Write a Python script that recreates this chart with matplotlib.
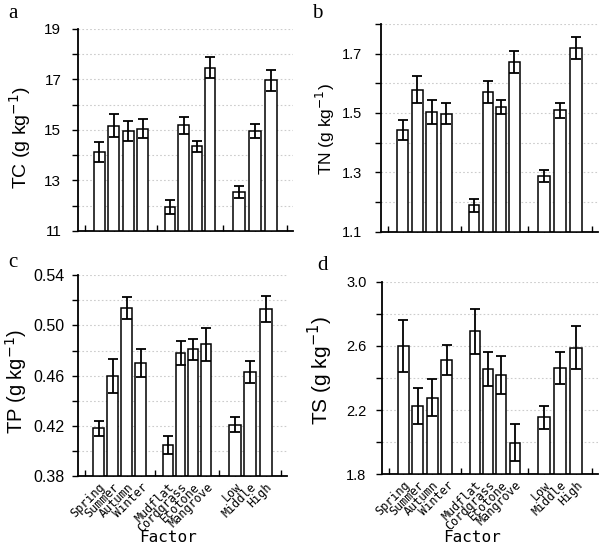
import numpy as np
import matplotlib
matplotlib.use('Agg')
import matplotlib.pyplot as plt

# categories (blank slots separate the three factor groups)
seasons = ['Spring', 'Summer', 'Autumn', 'Winter']
habitats = ['Mudflat', 'Cordgrass', 'Ecotone', 'Mangrove']
elevations = ['Low', 'Middle', 'High']

# means and standard errors, order: seasons, habitats, elevations
tc_mean = [14.14, 15.17, 14.97, 15.05, 11.94, 15.18, 14.36, 17.46, 12.56, 14.97, 16.96]
tc_err = [0.40, 0.45, 0.40, 0.38, 0.28, 0.34, 0.22, 0.42, 0.24, 0.28, 0.40]

tn_mean = [1.443, 1.579, 1.502, 1.497, 1.189, 1.571, 1.520, 1.673, 1.288, 1.509, 1.719]
tn_err = [0.034, 0.045, 0.040, 0.035, 0.022, 0.036, 0.022, 0.037, 0.020, 0.025, 0.037]

tp_mean = [0.418, 0.460, 0.514, 0.470, 0.405, 0.478, 0.481, 0.485, 0.421, 0.463, 0.513]
tp_err = [0.006, 0.0135, 0.0085, 0.0114, 0.007, 0.0093, 0.0082, 0.0132, 0.006, 0.0085, 0.0103]

ts_mean = [2.600, 2.227, 2.279, 2.513, 2.691, 2.455, 2.420, 1.997, 2.156, 2.465, 2.590]
ts_err = [0.164, 0.110, 0.118, 0.093, 0.141, 0.106, 0.116, 0.116, 0.070, 0.100, 0.133]

# ---- layout: slot spacing / bar width per group (axis units ~ pixels) ----
groups = [(seasons, 14.5, 11.0), (habitats, 13.3, 10.2), (elevations, 16.0, 12.5)]

tick_pos, tick_lab, bar_pos, bar_w = [], [], [], []
x = 7.0
tick_pos.append(x)
tick_lab.append('')
for names, step, w in groups:
    for n in names:
        x += step
        tick_pos.append(x)
        tick_lab.append(n)
        bar_pos.append(x)
        bar_w.append(w)
    x += step
    tick_pos.append(x)
    tick_lab.append('')

panels = [
    dict(mean=tc_mean, err=tc_err, ylabel='TC (g kg$^{-1}$)', ylim=(11, 19), grid=1, lab=2,
         fmt='{:.0f}', rect=[0.128, 0.577, 0.353, 0.370], letter='a', xlab=False,
         tfs=11, pad=8, yfs=14, ylc=(-0.27, 0.463), let=(8, 4)),
    dict(mean=tn_mean, err=tn_err, ylabel='TN (g kg$^{-1}$)', ylim=(1.1, 1.8), grid=0.1, lab=0.2,
         fmt='{:.1f}', rect=[0.626, 0.576, 0.356, 0.380], letter='b', xlab=False,
         tfs=10.5, pad=10, yfs=12.5, ylc=(-0.255, 0.494), let=(312, 4)),
    dict(mean=tp_mean, err=tp_err, ylabel='TP (g kg$^{-1}$)', ylim=(0.38, 0.54), grid=0.02, lab=0.04,
         fmt='{:.2f}', rect=[0.128, 0.128, 0.343, 0.368], letter='c', xlab=True,
         tfs=11.5, pad=5.5, yfs=14.5, ylc=(-0.295, 0.473), let=(8, 253), fx=168),
    dict(mean=ts_mean, err=ts_err, ylabel='TS (g kg$^{-1}$)', ylim=(1.8, 3.0), grid=0.2, lab=0.4,
         fmt='{:.1f}', rect=[0.627, 0.131, 0.355, 0.353], letter='d', xlab=True,
         tfs=10.5, pad=7, yfs=15, ylc=(-0.282, 0.54), let=(317, 256), fx=472),
]

W, H = 609, 546
fig = plt.figure(figsize=(W / 100, H / 100), dpi=100)

for p in panels:
    ax = fig.add_axes(p['rect'])
    lo, hi = p['ylim']
    ax.bar(bar_pos, np.array(p['mean']) - lo, width=bar_w, bottom=lo,
           color='white', edgecolor='black', linewidth=1.1, zorder=3)
    ax.errorbar(bar_pos, p['mean'], yerr=p['err'], fmt='none', ecolor='black',
                elinewidth=1.3, capsize=3.5, capthick=1.3, zorder=4)

    ax.set_xlim(0, 216)
    ax.set_ylim(lo, hi)

    # gridlines at every step, labels every other step
    yt = np.arange(lo, hi + p['grid'] / 2, p['grid'])
    ax.set_yticks(yt)
    labels = []
    for v in yt:
        k = round((v - lo) / p['lab'], 6)
        labels.append(p['fmt'].format(v) if abs(k - round(k)) < 1e-6 else '')
    ax.set_yticklabels(labels, fontsize=p['tfs'], family='Liberation Sans')
    for v in yt[1:]:
        ax.axhline(v, color='#cccccc', linestyle=(0, (1.5, 2)), linewidth=0.8, zorder=1)

    ax.set_xticks(tick_pos)
    if p['xlab']:
        ax.set_xticklabels(tick_lab, rotation=45, ha='right', rotation_mode='anchor',
                           fontsize=8.5, family='DejaVu Sans Mono')
        fig.text(p['fx'] / W, 1 - 537 / H, 'Factor', fontsize=11.5,
                 family='DejaVu Sans Mono', ha='center', va='center')
    else:
        ax.set_xticklabels([])

    ax.tick_params(axis='x', direction='in', length=4, width=1, pad=3)
    ax.tick_params(axis='y', direction='out', length=4, width=1, pad=p['pad'])

    ax.spines['top'].set_visible(False)
    ax.spines['right'].set_visible(False)
    ax.spines['left'].set_linewidth(1.3)
    ax.spines['bottom'].set_linewidth(1.3)

    ax.set_ylabel(p['ylabel'], fontsize=p['yfs'], family='Liberation Sans', va='center')
    ax.yaxis.set_label_coords(*p['ylc'])

    fig.text(p['let'][0] / W, 1 - p['let'][1] / H, p['letter'], fontsize=15,
             family='Liberation Serif', ha='left', va='top')

fig.savefig('out.png', dpi=100)
